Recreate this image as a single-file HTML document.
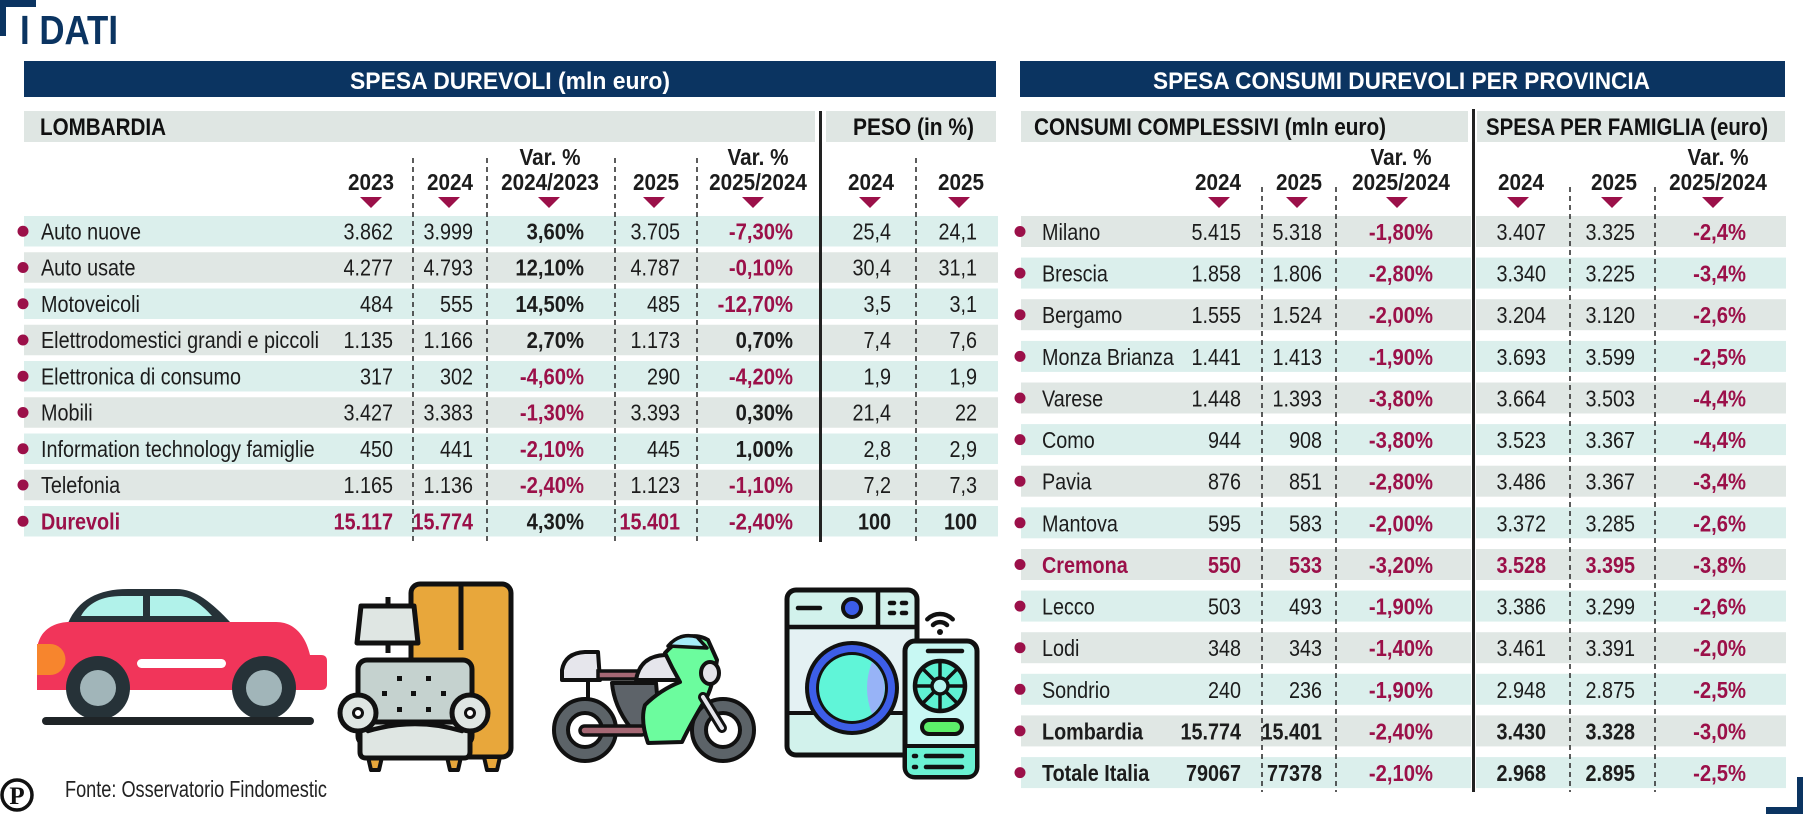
<!DOCTYPE html>
<html><head><meta charset="utf-8"><style>
html,body{margin:0;padding:0;background:#fff}
svg{display:block}
text{font-family:"Liberation Sans",sans-serif;font-size:23px;fill:#1c1c1c}
.b{font-weight:bold}
.c{font-weight:bold;fill:#9b1049}
.h{font-weight:bold;font-size:23px}
.t{font-weight:bold;font-size:24px;fill:#fff}
.g{font-weight:bold;font-size:24px;fill:#111}
.ds{stroke:#333;stroke-width:1.6;stroke-dasharray:5 4}
.k{stroke:#111;stroke-width:4.5;fill:none;stroke-linecap:round;stroke-linejoin:round}
</style></head><body>
<svg width="1803" height="814" viewBox="0 0 1803 814" xmlns="http://www.w3.org/2000/svg">
<rect width="1803" height="814" fill="#fff"/>
<!-- corner marks -->
<rect x="0" y="0" width="36" height="7" fill="#0b3461"/>
<rect x="0" y="0" width="6" height="36" fill="#0b3461"/>
<rect x="1766" y="807" width="37" height="7" fill="#0b3461"/>
<rect x="1797" y="777" width="6" height="37" fill="#0b3461"/>
<text x="20" y="44" style="font-size:41px;font-weight:bold;fill:#0b3461" textLength="98" lengthAdjust="spacingAndGlyphs">I DATI</text>

<!-- navy title bars -->
<rect x="24" y="61" width="972" height="36" fill="#0b3461"/>
<rect x="1020" y="61" width="765" height="36" fill="#0b3461"/>
<text class="t" x="350" y="89" textLength="320" lengthAdjust="spacingAndGlyphs">SPESA DUREVOLI (mln euro)</text>
<text class="t" x="1153" y="89" textLength="497" lengthAdjust="spacingAndGlyphs">SPESA CONSUMI DUREVOLI PER PROVINCIA</text>

<!-- gray sub bars -->
<rect x="24" y="111" width="791" height="31" fill="#dfe6e3"/>
<rect x="826" y="111" width="170" height="31" fill="#dfe6e3"/>
<rect x="1021" y="111" width="447" height="31" fill="#dfe6e3"/>
<rect x="1477" y="111" width="308" height="31" fill="#dfe6e3"/>
<text class="g" x="40" y="135" textLength="126" lengthAdjust="spacingAndGlyphs">LOMBARDIA</text>
<text class="g" x="853" y="135" textLength="121" lengthAdjust="spacingAndGlyphs">PESO (in %)</text>
<text class="g" x="1034" y="135" textLength="352" lengthAdjust="spacingAndGlyphs">CONSUMI COMPLESSIVI (mln euro)</text>
<text class="g" x="1486" y="135" textLength="282" lengthAdjust="spacingAndGlyphs">SPESA PER FAMIGLIA (euro)</text>

<!-- row bands left -->
<g>
<rect x="24" y="216" width="974" height="30.5" fill="#dbefec"/>
<rect x="24" y="252.25" width="974" height="30.5" fill="#e0e7e4"/>
<rect x="24" y="288.5" width="974" height="30.5" fill="#dbefec"/>
<rect x="24" y="324.75" width="974" height="30.5" fill="#e0e7e4"/>
<rect x="24" y="361" width="974" height="30.5" fill="#dbefec"/>
<rect x="24" y="397.25" width="974" height="30.5" fill="#e0e7e4"/>
<rect x="24" y="433.5" width="974" height="30.5" fill="#dbefec"/>
<rect x="24" y="469.75" width="974" height="30.5" fill="#e0e7e4"/>
<rect x="24" y="506" width="974" height="30.5" fill="#dbefec"/>
</g>
<!-- row bands right -->
<g>
<rect x="1021" y="216" width="450" height="31" fill="#e0e7e4"/><rect x="1476" y="216" width="310" height="31" fill="#e0e7e4"/>
<rect x="1021" y="257.6" width="450" height="31" fill="#dbefec"/><rect x="1476" y="257.6" width="310" height="31" fill="#dbefec"/>
<rect x="1021" y="299.2" width="450" height="31" fill="#e0e7e4"/><rect x="1476" y="299.2" width="310" height="31" fill="#e0e7e4"/>
<rect x="1021" y="340.9" width="450" height="31" fill="#dbefec"/><rect x="1476" y="340.9" width="310" height="31" fill="#dbefec"/>
<rect x="1021" y="382.5" width="450" height="31" fill="#e0e7e4"/><rect x="1476" y="382.5" width="310" height="31" fill="#e0e7e4"/>
<rect x="1021" y="424.1" width="450" height="31" fill="#dbefec"/><rect x="1476" y="424.1" width="310" height="31" fill="#dbefec"/>
<rect x="1021" y="465.7" width="450" height="31" fill="#e0e7e4"/><rect x="1476" y="465.7" width="310" height="31" fill="#e0e7e4"/>
<rect x="1021" y="507.3" width="450" height="31" fill="#dbefec"/><rect x="1476" y="507.3" width="310" height="31" fill="#dbefec"/>
<rect x="1021" y="549" width="450" height="31" fill="#e0e7e4"/><rect x="1476" y="549" width="310" height="31" fill="#e0e7e4"/>
<rect x="1021" y="590.6" width="450" height="31" fill="#dbefec"/><rect x="1476" y="590.6" width="310" height="31" fill="#dbefec"/>
<rect x="1021" y="632.2" width="450" height="31" fill="#e0e7e4"/><rect x="1476" y="632.2" width="310" height="31" fill="#e0e7e4"/>
<rect x="1021" y="673.8" width="450" height="31" fill="#dbefec"/><rect x="1476" y="673.8" width="310" height="31" fill="#dbefec"/>
<rect x="1021" y="715.4" width="450" height="31" fill="#e0e7e4"/><rect x="1476" y="715.4" width="310" height="31" fill="#e0e7e4"/>
<rect x="1021" y="757.1" width="450" height="31" fill="#dbefec"/><rect x="1476" y="757.1" width="310" height="31" fill="#dbefec"/>
</g>

<!-- dashed lines -->
<g class="ds">
<line x1="413" y1="158" x2="413" y2="542"/>
<line x1="487" y1="158" x2="487" y2="542"/>
<line x1="615" y1="158" x2="615" y2="542"/>
<line x1="697" y1="158" x2="697" y2="542"/>
<line x1="916" y1="158" x2="916" y2="542"/>
<line x1="1262" y1="187" x2="1262" y2="792"/>
<line x1="1336" y1="187" x2="1336" y2="792"/>
<line x1="1570" y1="187" x2="1570" y2="792"/>
<line x1="1655" y1="187" x2="1655" y2="792"/>
</g>
<rect x="819" y="111" width="3" height="431" fill="#222"/>
<rect x="1472" y="109" width="3" height="683" fill="#222"/>

<!-- headers left -->
<g text-anchor="middle">
<g transform="translate(550 0) scale(.9 1)"><text class="h" y="165">Var. %</text><text class="h" y="190">2024/2023</text></g>
<g transform="translate(758 0) scale(.9 1)"><text class="h" y="165">Var. %</text><text class="h" y="190">2025/2024</text></g>
<g transform="translate(371 0) scale(.9 1)"><text class="h" y="190">2023</text></g>
<g transform="translate(450 0) scale(.9 1)"><text class="h" y="190">2024</text></g>
<g transform="translate(656 0) scale(.9 1)"><text class="h" y="190">2025</text></g>
<g transform="translate(871 0) scale(.9 1)"><text class="h" y="190">2024</text></g>
<g transform="translate(961 0) scale(.9 1)"><text class="h" y="190">2025</text></g>
<!-- headers right -->
<g transform="translate(1218 0) scale(.9 1)"><text class="h" y="190">2024</text></g>
<g transform="translate(1299 0) scale(.9 1)"><text class="h" y="190">2025</text></g>
<g transform="translate(1401 0) scale(.9 1)"><text class="h" y="165">Var. %</text><text class="h" y="190">2025/2024</text></g>
<g transform="translate(1521 0) scale(.9 1)"><text class="h" y="190">2024</text></g>
<g transform="translate(1614 0) scale(.9 1)"><text class="h" y="190">2025</text></g>
<g transform="translate(1718 0) scale(.9 1)"><text class="h" y="165">Var. %</text><text class="h" y="190">2025/2024</text></g>
</g>
<!-- triangles -->
<g fill="#9b1049">
<polygon points="360,197 382,197 371,208"/>
<polygon points="438,197 460,197 449,208"/>
<polygon points="538,197 560,197 549,208"/>
<polygon points="643,197 665,197 654,208"/>
<polygon points="742,197 764,197 753,208"/>
<polygon points="859,197 881,197 870,208"/>
<polygon points="948,197 970,197 959,208"/>
<polygon points="1208,197 1230,197 1219,208"/>
<polygon points="1286,197 1308,197 1297,208"/>
<polygon points="1386,197 1408,197 1397,208"/>
<polygon points="1507,197 1529,197 1518,208"/>
<polygon points="1601,197 1623,197 1612,208"/>
<polygon points="1702,197 1724,197 1713,208"/>
</g>

<!-- bullets -->
<g fill="#9b1049">
<circle cx="23" cy="231.25" r="5.5"/><circle cx="23" cy="267.5" r="5.5"/><circle cx="23" cy="303.75" r="5.5"/>
<circle cx="23" cy="340" r="5.5"/><circle cx="23" cy="376.25" r="5.5"/><circle cx="23" cy="412.5" r="5.5"/>
<circle cx="23" cy="448.75" r="5.5"/><circle cx="23" cy="485" r="5.5"/><circle cx="23" cy="521.25" r="5.5"/>
<circle cx="1020" cy="231.5" r="5.5"/><circle cx="1020" cy="273.1" r="5.5"/><circle cx="1020" cy="314.7" r="5.5"/>
<circle cx="1020" cy="356.4" r="5.5"/><circle cx="1020" cy="398" r="5.5"/><circle cx="1020" cy="439.6" r="5.5"/>
<circle cx="1020" cy="481.2" r="5.5"/><circle cx="1020" cy="522.8" r="5.5"/><circle cx="1020" cy="564.5" r="5.5"/>
<circle cx="1020" cy="606.1" r="5.5"/><circle cx="1020" cy="647.7" r="5.5"/><circle cx="1020" cy="689.3" r="5.5"/>
<circle cx="1020" cy="730.9" r="5.5"/><circle cx="1020" cy="772.6" r="5.5"/>
</g>

<!-- left table labels -->
<g transform="translate(41 0) scale(.86 1)">
<text y="239.5">Auto nuove</text>
<text y="275.75">Auto usate</text>
<text y="312">Motoveicoli</text>
<text y="348.25">Elettrodomestici grandi e piccoli</text>
<text y="384.5">Elettronica di consumo</text>
<text y="420.75">Mobili</text>
<text y="457">Information technology famiglie</text>
<text y="493.25">Telefonia</text>
<text y="529.5" class="c">Durevoli</text>
</g>
<g text-anchor="end">
<g transform="translate(393 0) scale(.86 1)">
<text y="239.5">3.862</text><text y="275.75">4.277</text><text y="312">484</text><text y="348.25">1.135</text><text y="384.5">317</text><text y="420.75">3.427</text><text y="457">450</text><text y="493.25">1.165</text><text y="529.5" class="c">15.117</text>
</g>
<g transform="translate(473 0) scale(.86 1)">
<text y="239.5">3.999</text><text y="275.75">4.793</text><text y="312">555</text><text y="348.25">1.166</text><text y="384.5">302</text><text y="420.75">3.383</text><text y="457">441</text><text y="493.25">1.136</text><text y="529.5" class="c">15.774</text>
</g>
<g transform="translate(584 0) scale(.88 1)">
<text y="239.5" class="b">3,60%</text><text y="275.75" class="b">12,10%</text><text y="312" class="b">14,50%</text><text y="348.25" class="b">2,70%</text><text y="384.5" class="c">-4,60%</text><text y="420.75" class="c">-1,30%</text><text y="457" class="c">-2,10%</text><text y="493.25" class="c">-2,40%</text><text y="529.5" class="b">4,30%</text>
</g>
<g transform="translate(680 0) scale(.86 1)">
<text y="239.5">3.705</text><text y="275.75">4.787</text><text y="312">485</text><text y="348.25">1.173</text><text y="384.5">290</text><text y="420.75">3.393</text><text y="457">445</text><text y="493.25">1.123</text><text y="529.5" class="c">15.401</text>
</g>
<g transform="translate(793 0) scale(.88 1)">
<text y="239.5" class="c">-7,30%</text><text y="275.75" class="c">-0,10%</text><text y="312" class="c">-12,70%</text><text y="348.25" class="b">0,70%</text><text y="384.5" class="c">-4,20%</text><text y="420.75" class="b">0,30%</text><text y="457" class="b">1,00%</text><text y="493.25" class="c">-1,10%</text><text y="529.5" class="c">-2,40%</text>
</g>
<g transform="translate(891 0) scale(.86 1)">
<text y="239.5">25,4</text><text y="275.75">30,4</text><text y="312">3,5</text><text y="348.25">7,4</text><text y="384.5">1,9</text><text y="420.75">21,4</text><text y="457">2,8</text><text y="493.25">7,2</text><text y="529.5" class="b">100</text>
</g>
<g transform="translate(977 0) scale(.86 1)">
<text y="239.5">24,1</text><text y="275.75">31,1</text><text y="312">3,1</text><text y="348.25">7,6</text><text y="384.5">1,9</text><text y="420.75">22</text><text y="457">2,9</text><text y="493.25">7,3</text><text y="529.5" class="b">100</text>
</g>
</g>

<!-- right table labels -->
<g transform="translate(1042 0) scale(.86 1)">
<text y="240">Milano</text><text y="281.6">Brescia</text><text y="323.2">Bergamo</text><text y="364.9">Monza Brianza</text>
<text y="406.5">Varese</text><text y="448.1">Como</text><text y="489.7">Pavia</text><text y="531.3">Mantova</text>
<text y="573" class="c">Cremona</text><text y="614.6">Lecco</text><text y="656.2">Lodi</text><text y="697.8">Sondrio</text>
<text y="739.4" class="b">Lombardia</text><text y="781.1" class="b">Totale Italia</text>
</g>
<g text-anchor="end">
<g transform="translate(1241 0) scale(.86 1)">
<text y="240">5.415</text><text y="281.6">1.858</text><text y="323.2">1.555</text><text y="364.9">1.441</text><text y="406.5">1.448</text><text y="448.1">944</text><text y="489.7">876</text><text y="531.3">595</text><text y="573" class="c">550</text><text y="614.6">503</text><text y="656.2">348</text><text y="697.8">240</text><text y="739.4" class="b">15.774</text><text y="781.1" class="b">79067</text>
</g>
<g transform="translate(1322 0) scale(.86 1)">
<text y="240">5.318</text><text y="281.6">1.806</text><text y="323.2">1.524</text><text y="364.9">1.413</text><text y="406.5">1.393</text><text y="448.1">908</text><text y="489.7">851</text><text y="531.3">583</text><text y="573" class="c">533</text><text y="614.6">493</text><text y="656.2">343</text><text y="697.8">236</text><text y="739.4" class="b">15.401</text><text y="781.1" class="b">77378</text>
</g>
<g transform="translate(1433 0) scale(.88 1)" class="c">
<text y="240" class="c">-1,80%</text><text y="281.6" class="c">-2,80%</text><text y="323.2" class="c">-2,00%</text><text y="364.9" class="c">-1,90%</text><text y="406.5" class="c">-3,80%</text><text y="448.1" class="c">-3,80%</text><text y="489.7" class="c">-2,80%</text><text y="531.3" class="c">-2,00%</text><text y="573" class="c">-3,20%</text><text y="614.6" class="c">-1,90%</text><text y="656.2" class="c">-1,40%</text><text y="697.8" class="c">-1,90%</text><text y="739.4" class="c">-2,40%</text><text y="781.1" class="c">-2,10%</text>
</g>
<g transform="translate(1546 0) scale(.86 1)">
<text y="240">3.407</text><text y="281.6">3.340</text><text y="323.2">3.204</text><text y="364.9">3.693</text><text y="406.5">3.664</text><text y="448.1">3.523</text><text y="489.7">3.486</text><text y="531.3">3.372</text><text y="573" class="c">3.528</text><text y="614.6">3.386</text><text y="656.2">3.461</text><text y="697.8">2.948</text><text y="739.4" class="b">3.430</text><text y="781.1" class="b">2.968</text>
</g>
<g transform="translate(1635 0) scale(.86 1)">
<text y="240">3.325</text><text y="281.6">3.225</text><text y="323.2">3.120</text><text y="364.9">3.599</text><text y="406.5">3.503</text><text y="448.1">3.367</text><text y="489.7">3.367</text><text y="531.3">3.285</text><text y="573" class="c">3.395</text><text y="614.6">3.299</text><text y="656.2">3.391</text><text y="697.8">2.875</text><text y="739.4" class="b">3.328</text><text y="781.1" class="b">2.895</text>
</g>
<g transform="translate(1746 0) scale(.88 1)">
<text y="240" class="c">-2,4%</text><text y="281.6" class="c">-3,4%</text><text y="323.2" class="c">-2,6%</text><text y="364.9" class="c">-2,5%</text><text y="406.5" class="c">-4,4%</text><text y="448.1" class="c">-4,4%</text><text y="489.7" class="c">-3,4%</text><text y="531.3" class="c">-2,6%</text><text y="573" class="c">-3,8%</text><text y="614.6" class="c">-2,6%</text><text y="656.2" class="c">-2,0%</text><text y="697.8" class="c">-2,5%</text><text y="739.4" class="c">-3,0%</text><text y="781.1" class="c">-2,5%</text>
</g>
</g>

<!-- CAR -->
<path d="M68,623 C78,600 98,589 128,589 L176,589 C196,589 212,603 231,623 Z" fill="#263238"/>
<path d="M81,616 C88,603 102,596 122,596 L143,596 L143,616 Z" fill="#b1f2ea"/>
<path d="M150,596 L180,596 C192,597 202,605 212,616 L150,616 Z" fill="#b1f2ea"/>
<path d="M37,690 L37,652 C37,634 50,622 70,622 L276,622 C296,622 306,638 310,655 L321,655 Q327,655 327,661 L327,684 Q327,690 321,690 Z" fill="#f1355a"/>
<path d="M37,644 L50,644 A15.5,15.5 0 0 1 50,675 L37,675 Z" fill="#f7852d"/>
<rect x="137" y="659" width="89" height="9" rx="4.5" fill="#fff"/>
<circle cx="98" cy="688" r="32" fill="#263238"/><circle cx="98" cy="688" r="18" fill="#a1b5b9"/>
<circle cx="264" cy="688" r="32" fill="#263238"/><circle cx="264" cy="688" r="18" fill="#a1b5b9"/>
<rect x="42" y="717" width="272" height="8" rx="4" fill="#1f2427"/>

<!-- WARDROBE / LAMP / ARMCHAIR -->
<rect x="411" y="584" width="100" height="173" rx="9" fill="#e8a73b" stroke="#111" stroke-width="5"/>
<line x1="461" y1="584" x2="461" y2="650" stroke="#111" stroke-width="5"/>
<path d="M484,757 L500,757 L497,770 L487,770 Z" fill="#e8a73b" stroke="#111" stroke-width="4" stroke-linejoin="round"/>
<line x1="388" y1="597" x2="388" y2="653" stroke="#111" stroke-width="5"/>
<path d="M361,606 L414,606 L418,643 L357,643 Z" fill="#dfe6e3" stroke="#111" stroke-width="5" stroke-linejoin="round"/>
<rect x="358" y="660" width="114" height="85" rx="9" fill="#c5d2cf" stroke="#111" stroke-width="5"/>
<path d="M368,757 L382,757 L379,770 L371,770 Z" fill="#e8a73b" stroke="#111" stroke-width="4" stroke-linejoin="round"/>
<path d="M447,757 L461,757 L458,770 L450,770 Z" fill="#e8a73b" stroke="#111" stroke-width="4" stroke-linejoin="round"/>
<path d="M360,722 L360,752 Q360,758 366,758 L464,758 Q470,758 470,752 L470,722 Z" fill="#dfe6e3" stroke="#111" stroke-width="5" stroke-linejoin="round"/>
<path d="M368,731 Q415,717 462,731" class="k" stroke-width="5"/>
<circle cx="358" cy="713" r="18" fill="#dfe6e3" stroke="#111" stroke-width="5"/>
<circle cx="358" cy="713" r="4.5" fill="#fff" stroke="#111" stroke-width="3"/>
<circle cx="470" cy="713" r="18" fill="#dfe6e3" stroke="#111" stroke-width="5"/>
<circle cx="470" cy="713" r="4.5" fill="#fff" stroke="#111" stroke-width="3"/>
<g fill="#111">
<rect x="397" y="676" width="5" height="5"/><rect x="426" y="676" width="5" height="5"/>
<rect x="382" y="691" width="5" height="5"/><rect x="411" y="691" width="5" height="5"/><rect x="441" y="691" width="5" height="5"/>
<rect x="397" y="707" width="5" height="5"/><rect x="426" y="707" width="5" height="5"/>
</g>

<!-- MOTORCYCLE -->
<line x1="588" y1="680" x2="588" y2="730" stroke="#111" stroke-width="4"/>
<circle cx="585" cy="730" r="31" fill="#5c6368" stroke="#111" stroke-width="4"/>
<circle cx="585" cy="730" r="17" fill="#fff" stroke="#111" stroke-width="4"/>
<circle cx="723" cy="730" r="31" fill="#5c6368" stroke="#111" stroke-width="4"/>
<circle cx="723" cy="730" r="17" fill="#fff" stroke="#111" stroke-width="4"/>
<path d="M612,683 L656,683 L660,727 L630,727 Q614,706 612,683 Z" fill="#5d6369" stroke="#111" stroke-width="4" stroke-linejoin="round"/>
<rect x="580" y="726" width="66" height="9" rx="4.5" fill="#a66874" stroke="#111" stroke-width="3.5"/>
<path d="M562,680 L562,670 Q565,653 585,652 L598,652 L600,680 Z" fill="#e6e6ec" stroke="#111" stroke-width="4" stroke-linejoin="round"/>
<rect x="598" y="671" width="40" height="8" fill="#a66874" stroke="#111" stroke-width="3.5"/>
<path d="M636,680 Q640,656 665,655 L688,660 L682,680 Z" fill="#e6e6ec" stroke="#111" stroke-width="4" stroke-linejoin="round"/>
<path d="M665,653 Q688,628 708,640 L717,660 Q712,690 705,700 Q690,725 682,742 L648,743 Q640,720 645,705 Q660,690 680,682 Q672,668 665,653 Z" fill="#6cfc9e" stroke="#111" stroke-width="4" stroke-linejoin="round"/>
<path d="M668,646 Q680,632 697,637 L707,648 Z" fill="#a6ecf9" stroke="#111" stroke-width="3.5" stroke-linejoin="round"/>
<ellipse cx="710" cy="673" rx="9" ry="11" fill="#e3e3e9" stroke="#111" stroke-width="4"/>
<line x1="703" y1="697" x2="722" y2="728" stroke="#111" stroke-width="10" stroke-linecap="round"/>
<line x1="703" y1="697" x2="722" y2="728" stroke="#e5e5eb" stroke-width="4" stroke-linecap="round"/>

<!-- WASHING MACHINE + PHONE -->
<rect x="787" y="590" width="130" height="165" rx="9" fill="#d2f2ec" stroke="#111" stroke-width="5"/>
<rect x="790" y="630" width="124" height="82" fill="#e4f1f3"/>
<line x1="787" y1="627" x2="917" y2="627" stroke="#111" stroke-width="4.5"/>
<line x1="787" y1="713" x2="917" y2="713" stroke="#111" stroke-width="4"/>
<line x1="878" y1="590" x2="878" y2="627" stroke="#111" stroke-width="4.5"/>
<line x1="798" y1="608" x2="820" y2="608" class="k" stroke-width="5"/>
<circle cx="852" cy="608" r="9" fill="#3b5de7" stroke="#111" stroke-width="4"/>
<g class="k" stroke-width="4"><line x1="890" y1="603" x2="894" y2="603"/><line x1="902" y1="603" x2="906" y2="603"/><line x1="890" y1="613" x2="894" y2="613"/><line x1="902" y1="613" x2="906" y2="613"/></g>
<circle cx="852" cy="688" r="47" fill="#111"/>
<circle cx="852" cy="688" r="43" fill="#3d5ee8"/>
<circle cx="852" cy="688" r="36" fill="#111"/>
<circle cx="852" cy="688" r="33" fill="#60f5d8"/>
<path d="M872,662 A33,33 0 0 1 872,714 Q862,688 872,662 Z" fill="#97b3f7"/>
<rect x="905" y="641" width="72" height="136" rx="10" fill="#c8f8f3" stroke="#111" stroke-width="5"/>
<path d="M907,746 L975,746 L975,767 Q975,775 967,775 L915,775 Q907,775 907,767 Z" fill="#6bf1d2"/>
<line x1="905" y1="746" x2="977" y2="746" stroke="#111" stroke-width="4"/>
<line x1="928" y1="651" x2="962" y2="651" class="k" stroke-width="5"/>
<circle cx="940" cy="686" r="25" fill="#5ff1d2" stroke="#111" stroke-width="4.5"/>
<g stroke="#111" stroke-width="3.5"><line x1="940" y1="661" x2="940" y2="711"/><line x1="915" y1="686" x2="965" y2="686"/><line x1="922" y1="668" x2="958" y2="704"/><line x1="958" y1="668" x2="922" y2="704"/></g>
<circle cx="940" cy="686" r="8" fill="#b5f3ee" stroke="#111" stroke-width="3.5"/>
<rect x="922" y="720" width="40" height="14" rx="7" fill="#5cef6a" stroke="#111" stroke-width="4"/>
<g class="k" stroke-width="4"><line x1="926" y1="756" x2="962" y2="756"/><line x1="926" y1="767" x2="962" y2="767"/><line x1="914" y1="756" x2="916" y2="756"/><line x1="914" y1="767" x2="916" y2="767"/></g>
<circle cx="940" cy="632" r="3" fill="#111"/>
<path d="M933,625 A10,10 0 0 1 947,625" class="k" stroke-width="4"/>
<path d="M927.3,619.3 A18,18 0 0 1 952.7,619.3" class="k" stroke-width="4"/>

<!-- footer -->
<circle cx="17" cy="795" r="15" fill="#fff" stroke="#111" stroke-width="3.5"/>
<text x="17" y="804" text-anchor="middle" style="font-family:'Liberation Serif',serif;font-weight:bold;font-size:25px;fill:#111">P</text>
<text x="65" y="797" style="fill:#222" textLength="262" lengthAdjust="spacingAndGlyphs">Fonte: Osservatorio Findomestic</text>
</svg>
</body></html>
